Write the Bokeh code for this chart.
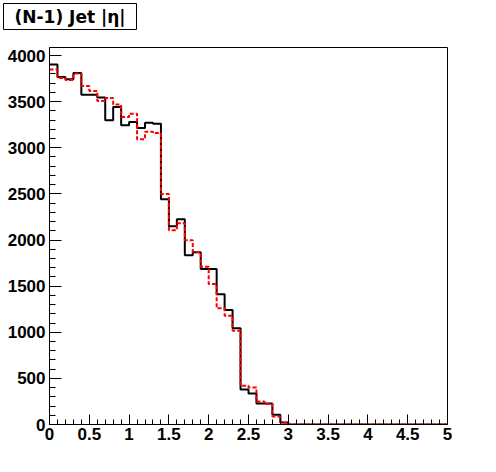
import numpy as np
from bokeh.plotting import figure
from bokeh.models import Range1d, FixedTicker, NumeralTickFormatter, Title
from bokeh.embed import file_html
from bokeh.resources import INLINE

# Bin edges 0..5 in steps of 0.1 (50 bins)
bin_edges = [round(0.1 * i, 1) for i in range(51)]

# Black histogram (solid)
black_counts = [3902, 3768, 3743, 3811, 3576, 3576, 3544, 3298, 3442, 3243,
                3279, 3214, 3272, 3261, 2443, 2150, 2226, 1835, 1868, 1687,
                1687, 1412, 1242, 1043, 380, 337, 228, 228, 107, 22,
                0, 0, 0, 0, 0, 0, 0, 0, 0, 0,
                0, 0, 0, 0, 0, 0, 0, 0, 0, 0]

# Red histogram (dashed)
red_counts = [3848, 3757, 3735, 3805, 3670, 3616, 3507, 3540, 3468, 3334,
              3370, 3091, 3175, 3160, 2498, 2107, 2183, 1998, 1868, 1709,
              1524, 1260, 1180, 1017, 420, 402, 250, 221, 87, 18,
              0, 0, 0, 0, 0, 0, 0, 0, 0, 0,
              0, 0, 0, 0, 0, 0, 0, 0, 0, 0]

x_major = [0, 0.5, 1, 1.5, 2, 2.5, 3, 3.5, 4, 4.5, 5]
y_major = [0, 500, 1000, 1500, 2000, 2500, 3000, 3500, 4000]
title_text = "(N-1) Jet |η|"

p = figure(width=488, height=464, output_backend="svg", toolbar_location=None, title=None,
           x_range=Range1d(0, 5), y_range=Range1d(0, 4087),
           min_border_left=49, min_border_right=41, min_border_top=47, min_border_bottom=40)

# blank spacer between frame and title box (nearest to frame)
spacer = Title(text=" ", text_font_size="1px", standoff=15, text_color="white")
p.add_layout(spacer, "above")

# padding order: (left, right, top, bottom)
title = Title(text=title_text, align="left", vertical_align="bottom", offset=-46, standoff=0,
              text_font="DejaVu Sans", text_font_style="bold", text_font_size="17px",
              text_color="black", border_line_color="black", border_line_width=1,
              background_fill_color="white", padding=(11, 11, 3, 3))
p.add_layout(title, "above")

p.xgrid.visible = False
p.ygrid.visible = False
p.background_fill_color = "white"
p.border_fill_color = "white"
p.outline_line_color = "black"
p.outline_line_width = 1

# Ticks
p.xaxis.ticker = FixedTicker(ticks=x_major, minor_ticks=[round(0.1 * i, 1) for i in range(51)])
p.yaxis.ticker = FixedTicker(ticks=y_major, minor_ticks=list(range(0, 4001, 100)))
p.xaxis.formatter = NumeralTickFormatter(format="0.[0]")
p.yaxis.formatter = NumeralTickFormatter(format="0")

for ax in (p.xaxis, p.yaxis):
    ax.major_tick_out = 0
    ax.minor_tick_out = 0
    ax.major_label_text_font = "Liberation Sans"
    ax.major_label_text_font_style = "bold"
    ax.major_label_text_font_size = "17px"
    ax.major_label_text_color = "black"
    ax.axis_line_color = "black"
    ax.major_tick_line_color = "black"
    ax.minor_tick_line_color = "black"

p.xaxis.major_tick_in = 10
p.xaxis.minor_tick_in = 5
p.yaxis.major_tick_in = 12
p.yaxis.minor_tick_in = 6
p.xaxis.major_label_standoff = 3
p.yaxis.major_label_standoff = 4

# Histograms as steps
p.step(x=bin_edges, y=black_counts + [black_counts[-1]], mode="after",
       line_color="black", line_width=2)
p.step(x=bin_edges, y=red_counts + [red_counts[-1]], mode="after",
       line_color="red", line_width=2, line_dash="4 2")

open("out.html", "w").write(file_html(p, INLINE))
